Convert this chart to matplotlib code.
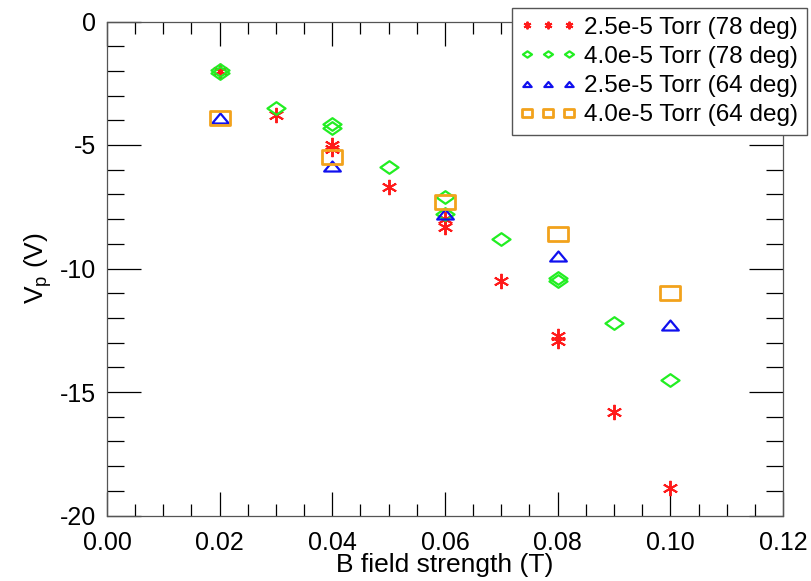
import numpy as np
import matplotlib
matplotlib.use('Agg')
import matplotlib.pyplot as plt
from matplotlib.path import Path

# donnees
b_78_25 = [0.02, 0.03, 0.04, 0.04, 0.05, 0.06, 0.06, 0.07, 0.08, 0.08, 0.09, 0.10]
vp_78_25 = [-2.0, -3.8, -5.0, -5.15, -6.7, -8.3, -8.0, -10.5, -12.75, -12.95, -15.8, -18.9]

b_78_40 = [0.02, 0.02, 0.03, 0.04, 0.04, 0.05, 0.06, 0.06, 0.07, 0.08, 0.08, 0.09, 0.10]
vp_78_40 = [-1.95, -2.1, -3.5, -4.15, -4.3, -5.9, -7.1, -7.8, -8.8, -10.4, -10.5, -12.2, -14.5]

b_64_25 = [0.02, 0.04, 0.06, 0.08, 0.10]
vp_64_25 = [-3.9, -5.85, -7.8, -9.5, -12.3]

b_64_40 = [0.02, 0.04, 0.06, 0.08, 0.10]
vp_64_40 = [-3.9, -5.5, -7.3, -8.6, -11.0]

labels = ['2.5e-5 Torr (78 deg)', '4.0e-5 Torr (78 deg)',
          '2.5e-5 Torr (64 deg)', '4.0e-5 Torr (64 deg)']

# marqueurs un peu aplatis comme sur l'original
rect = Path([(-1.45, -1), (1.45, -1), (1.45, 1), (-1.45, 1), (-1.45, -1)],
            [Path.MOVETO, Path.LINETO, Path.LINETO, Path.LINETO, Path.CLOSEPOLY])
diam = Path([(0, -0.7), (1, 0), (0, 0.7), (-1, 0), (0, -0.7)],
            [Path.MOVETO, Path.LINETO, Path.LINETO, Path.LINETO, Path.CLOSEPOLY])
tri = Path([(-1, -0.6), (1, -0.6), (0, 0.6), (-1, -0.6)],
           [Path.MOVETO, Path.LINETO, Path.LINETO, Path.CLOSEPOLY])

plt.rcParams['font.family'] = ['Liberation Sans', 'DejaVu Sans']
plt.rcParams['axes.unicode_minus'] = False

fig = plt.figure(figsize=(8.12, 5.81), dpi=100)
ax = fig.add_axes([107/812, 1-515.5/581, 676/812, 494/581])

ax.plot(b_78_25, vp_78_25, ls='none', marker=(6, 2, 0), ms=11, mew=1.4,
        color='#ff1a1a', label=labels[0])
ax.plot(b_78_40, vp_78_40, ls='none', marker=diam, ms=13, mew=1.6,
        mfc='none', mec='#22ee22', label=labels[1])
ax.plot(b_64_25, vp_64_25, ls='none', marker=tri, ms=12, mew=1.6,
        mfc='none', mec='#1010ee', label=labels[2])
ax.plot(b_64_40, vp_64_40, ls='none', marker=rect, ms=15, mew=2,
        mfc='none', mec='#f2a21c', label=labels[3])

ax.set_xlim(0, 0.12)
ax.set_ylim(-20, 0)
ax.set_xticks(np.arange(0, 0.121, 0.02))
ax.set_xticks(np.arange(0, 0.121, 0.005), minor=True)
ax.set_yticks(np.arange(-20, 0.1, 5))
ax.set_yticks(np.arange(-20, 0.1, 1), minor=True)
ax.set_xticklabels(['0.00', '0.02', '0.04', '0.06', '0.08', '0.10', '0.12'])

ax.tick_params(axis='both', which='both', direction='in', top=True, right=True,
               width=0.9, labelsize=18)
ax.tick_params(axis='x', which='major', length=17.5, pad=11)
ax.tick_params(axis='x', which='minor', length=8.6)
ax.tick_params(axis='y', which='major', length=24.5, pad=8)
ax.tick_params(axis='y', which='minor', length=12.2)
for s in ax.spines.values():
    s.set_linewidth(0.9)
    s.set_color('#555555')

ax.set_xlabel('B field strength (T)', fontsize=19, labelpad=-1.5)
ax.set_ylabel('V$_\\mathregular{p}$ (V)', fontsize=19, labelpad=4)

leg = ax.legend(loc='upper right', bbox_to_anchor=(807/812, 1-8/581),
                bbox_transform=fig.transFigure, numpoints=3, markerscale=0.5,
                fontsize=17.5, fancybox=False, framealpha=1, edgecolor='#555555',
                borderpad=0.35, labelspacing=0.3, handlelength=2.3,
                handletextpad=0.35, borderaxespad=0)
leg.get_frame().set_linewidth(1)
leg.set_zorder(5)

fig.savefig('out.png', dpi=100)
